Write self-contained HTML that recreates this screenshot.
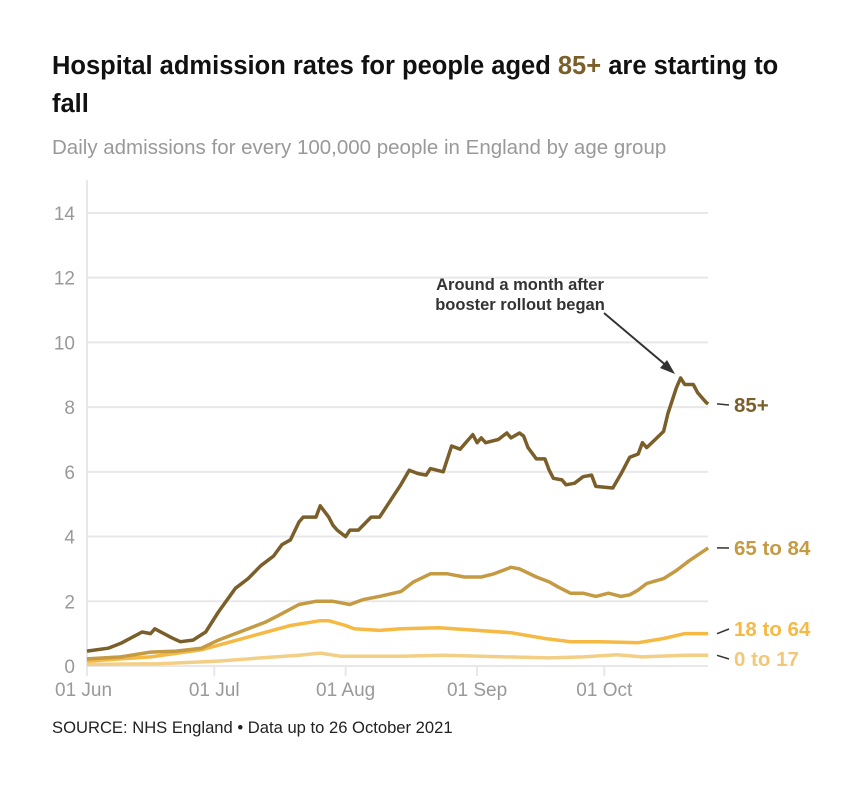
<!DOCTYPE html>
<html><head><meta charset="utf-8"><style>
body{margin:0;background:#fff;width:864px;height:792px;overflow:hidden;font-family:"Liberation Sans",sans-serif}
</style></head><body>
<svg width="864" height="792">
<text x="52" y="74" font-size="25.5" font-weight="bold" fill="#111">Hospital admission rates for people aged <tspan fill="#7a5f2a">85+</tspan> are starting to</text>
<text x="52" y="112" font-size="25.5" font-weight="bold" fill="#111">fall</text>
<text x="52" y="154" font-size="20.5" fill="#999">Daily admissions for every 100,000 people in England by age group</text>
<g id="grid"></g><g id="series"></g>
<text x="52" y="733" font-size="16.6" fill="#222">SOURCE: NHS England • Data up to 26 October 2021</text>
<text x="520" y="290" font-size="16.5" font-weight="bold" fill="#333" text-anchor="middle">Around a month after</text>
<text x="520" y="310" font-size="16.5" font-weight="bold" fill="#333" text-anchor="middle">booster rollout began</text>
<line x1="604" y1="313" x2="668" y2="367" stroke="#333" stroke-width="2"/>
<polygon points="675,374 660,368 667,360" fill="#333"/>
</svg>
<script>
const yTicks=[0,2,4,6,8,10,12,14];
const xTickDays=[0,30,61,92,122];
const xTickLabels=["01 Jun","01 Jul","01 Aug","01 Sep","01 Oct"];
const seriesNames=["0 to 17","18 to 64","65 to 84","85+"];
const d0017=[0,17,31,41,50,55,60,74,84,93,109,117,125,131,141,146.5];
const v0017=[0.05,0.07,0.15,0.25,0.33,0.4,0.3,0.3,0.33,0.3,0.25,0.28,0.35,0.28,0.33,0.33];
const d1864=[0,15,27,34,41,48,55,57,61,63,69,74,83,100,108,114,121,130,136,141,146.5];
const v1864=[0.15,0.28,0.5,0.75,1.0,1.25,1.4,1.4,1.25,1.15,1.1,1.15,1.18,1.03,0.85,0.75,0.75,0.72,0.85,1.0,1.0];
const d6584=[0,8,15,21,27,31,37,42,45,50,54,58,62,65,69,74,77,81,85,89,93,96,100,102,106,109,111,114,117,120,123,126,128,130,132,136,139,142,146.5];
const v6584=[0.22,0.28,0.43,0.46,0.55,0.8,1.1,1.35,1.55,1.9,2.0,2.0,1.9,2.05,2.15,2.3,2.6,2.85,2.85,2.75,2.75,2.85,3.05,3.0,2.75,2.6,2.45,2.25,2.25,2.15,2.25,2.15,2.2,2.35,2.55,2.7,2.95,3.25,3.65];
const d85=[0,5,8,13,15,16,20,22,25,28,31,35,38,41,44,46,48,50,51,54,55,57,58,59,61,62,64,67,69,72,74,76,78,80,81,84,86,88,91,92,93,94,97,99,100,102,103,104,106,108,109,110,112,113,115,117,119,120,124,126,128,130,131,132,134,136,137,139,140,141,143,144,146,146.5];
const v85=[0.46,0.55,0.7,1.05,1.0,1.15,0.87,0.75,0.8,1.05,1.67,2.4,2.7,3.1,3.4,3.75,3.9,4.45,4.6,4.6,4.95,4.6,4.35,4.2,4.0,4.2,4.2,4.6,4.6,5.2,5.6,6.05,5.95,5.9,6.1,6.0,6.8,6.7,7.15,6.9,7.05,6.9,7.0,7.2,7.05,7.2,7.1,6.75,6.4,6.4,6.05,5.8,5.75,5.6,5.65,5.85,5.9,5.55,5.5,5.95,6.45,6.55,6.9,6.75,7.0,7.25,7.8,8.6,8.9,8.7,8.7,8.45,8.15,8.1];
const colors=["#f3cf85","#f5b944","#c49a42","#7b5f2a"];
const ns="http://www.w3.org/2000/svg";
const x=d=>87+d*4.24, y=v=>666-v*32.36;
const svg=document.querySelector("svg"),grid=document.getElementById("grid"),ser=document.getElementById("series");
function mk(tag,at,parent){const e=document.createElementNS(ns,tag);for(const k in at)e.setAttribute(k,at[k]);parent.appendChild(e);return e;}
yTicks.forEach(t=>{
 const l=mk("line",{x1:87,x2:708,y1:y(t),y2:y(t),stroke:"#e8e8e8","stroke-width":2},grid);
 
 
 const tx=mk("text",{x:75,y:y(t)+7,"font-size":19,fill:"#999","text-anchor":"end"},grid);tx.textContent=t;
 
 
});
const ax=mk("line",{x1:87,x2:87,y1:180,y2:668,stroke:"#e8e8e8","stroke-width":2},grid);


xTickDays.forEach((d,i)=>{
 const l=mk("line",{x1:x(d),x2:x(d),y1:666,y2:676,stroke:"#e8e8e8","stroke-width":2},grid);
 
 
 const tx=mk("text",{x:x(d),y:696,"font-size":19,fill:"#999","text-anchor":i==0?"start":"middle"},grid);tx.textContent=xTickLabels[i];
 if(i==0)tx.setAttribute("x",55);
 
 
});
const ds=[d0017,d1864,d6584,d85],vs=[v0017,v1864,v6584,v85];
const labY=[666,636,555,412],labCol=["#f3c777","#f5b944","#c49a42","#7b5f2a"];
ds.forEach((dd,i)=>{
 const pts=dd.map((d,j)=>x(d).toFixed(1)+","+y(vs[i][j]).toFixed(1)).join(" ");
 const p=mk("polyline",{points:pts,fill:"none",stroke:colors[i],"stroke-width":3.5,"stroke-linejoin":"round"},ser);
 
 
 const ey=y(vs[i][vs[i].length-1]);
 const c=mk("line",{x1:717,y1:ey,x2:729,y2:labY[i]-7,stroke:"#333","stroke-width":1.5},ser);
 
 
 const t=mk("text",{x:734,y:labY[i],"font-size":20.5,"font-weight":"bold",fill:labCol[i]},ser);t.textContent=seriesNames[i];
 
 
});
</script>
</body></html>
